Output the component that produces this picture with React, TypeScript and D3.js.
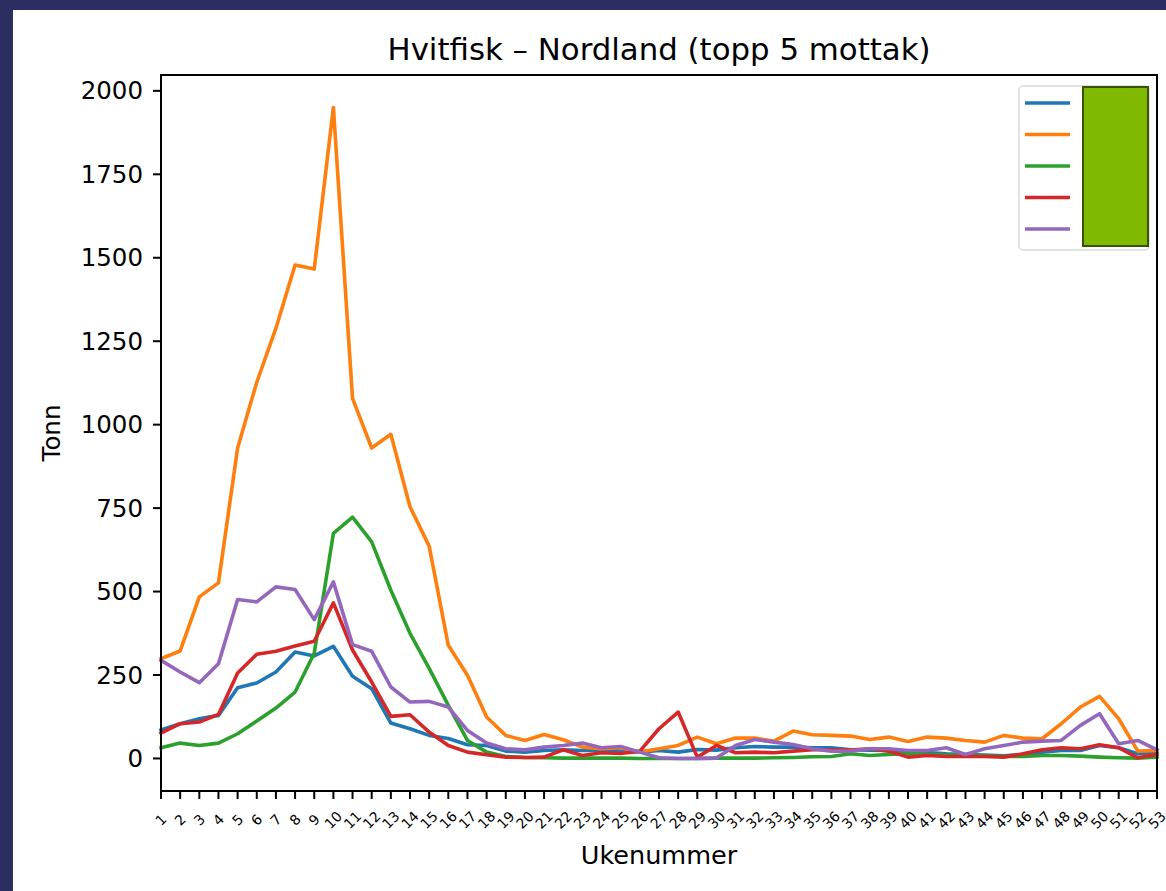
import React from "react";
import * as d3 from "d3";

// weeks 1..53
const weeks: number[] = d3.range(1, 54);

const seriesNames = ["Mottak 1", "Mottak 2", "Mottak 3", "Mottak 4", "Mottak 5"];
const seriesColors = ["#1f77b4", "#ff7f0e", "#2ca02c", "#d62728", "#9467bd"];

const mottak1 = [85, 104, 119, 129, 212, 226, 259, 319, 307, 336, 246, 209, 106, 89, 69, 60, 41, 39, 22, 19, 24, 26, 24, 24, 24, 19, 24, 19, 27, 25, 32, 36, 34, 34, 32, 32, 26, 25, 24, 18, 18, 14, 12, 10, 8, 12, 19, 24, 24, 39, 32, 14, 19];
const mottak2 = [299, 322, 484, 526, 930, 1127, 1289, 1478, 1466, 1950, 1079, 930, 971, 754, 636, 339, 249, 124, 69, 54, 72, 56, 34, 29, 32, 19, 29, 39, 64, 44, 61, 61, 52, 82, 71, 69, 67, 57, 64, 51, 64, 61, 54, 49, 69, 61, 59, 104, 154, 186, 119, 22, 24];
const mottak3 = [32, 46, 39, 46, 74, 112, 151, 199, 315, 674, 723, 649, 504, 375, 270, 159, 54, 19, 6, 3, 2, 1, 1, 1, 1, 0, 0, 0, 0, 1, 1, 1, 2, 3, 5, 6, 14, 9, 12, 14, 12, 10, 10, 8, 6, 6, 9, 9, 7, 4, 2, 1, 4];
const mottak4 = [76, 104, 109, 132, 256, 312, 321, 337, 351, 466, 325, 229, 126, 131, 79, 39, 19, 11, 4, 3, 4, 26, 9, 17, 15, 22, 89, 139, 4, 39, 17, 19, 17, 22, 26, 26, 25, 29, 22, 4, 9, 6, 6, 6, 4, 14, 26, 32, 29, 41, 32, 2, 12];
const mottak5 = [294, 259, 227, 284, 476, 469, 514, 506, 416, 529, 341, 321, 214, 169, 171, 154, 84, 46, 29, 26, 34, 39, 46, 32, 36, 19, 2, 0, 0, 1, 39, 57, 49, 42, 29, 22, 22, 29, 29, 24, 24, 32, 12, 29, 39, 49, 52, 54, 99, 134, 44, 54, 26];

const allSeries = [mottak1, mottak2, mottak3, mottak4, mottak5];
const yTicks = [0, 250, 500, 750, 1000, 1250, 1500, 1750, 2000];

const W = 1166;
const H = 891;
const margin = { top: 75, right: 9, bottom: 100, left: 161 };
const font = "DejaVu Sans, sans-serif";

export default function App() {
  const x0 = margin.left;
  const x1 = W - margin.right;
  const y0 = margin.top;
  const y1 = H - margin.bottom;

  const maxY = d3.max(allSeries, (s) => d3.max(s)) || 0;
  const pad = maxY * 0.05;

  const xScale = d3.scaleLinear().domain([1, 53]).range([x0, x1]);
  const yScale = d3.scaleLinear().domain([-pad, maxY + pad]).range([y1, y0]);

  const line = d3
    .line<number>()
    .x((_, i) => xScale(weeks[i]))
    .y((d) => yScale(d));

  return (
    <svg width={W} height={H} style={{ position: "absolute", left: 0, top: 0 }} fontFamily={font}>
      <rect x={0} y={0} width={W} height={H} fill="#2c2e62" />
      <rect x={13} y={10} width={W - 13} height={H - 10} fill="#ffffff" />

      {/* title */}
      <text x={(x0 + x1) / 2} y={60} textAnchor="middle" fontSize={30.8} fill="#000">
        Hvitfisk – Nordland (topp 5 mottak)
      </text>

      {/* lines */}
      <g>
        {allSeries.map((s, i) => (
          <path key={seriesNames[i]} d={line(s) || ""} fill="none" stroke={seriesColors[i]} strokeWidth={3.6} strokeLinejoin="round" strokeLinecap="square" />
        ))}
      </g>

      {/* frame */}
      <rect x={x0} y={y0} width={x1 - x0} height={y1 - y0} fill="none" stroke="#000" strokeWidth={2} />

      {/* y axis */}
      <g>
        {yTicks.map((t) => (
          <g key={t} transform={`translate(0,${yScale(t)})`}>
            <line x1={x0 - 8} x2={x0} stroke="#000" strokeWidth={2} />
            <text x={x0 - 18} dy="0.35em" textAnchor="end" fontSize={24.5} fill="#000">
              {t}
            </text>
          </g>
        ))}
      </g>

      {/* x axis */}
      <g>
        {weeks.map((w) => (
          <g key={w} transform={`translate(${xScale(w)},0)`}>
            <line y1={y1} y2={y1 + 8} stroke="#000" strokeWidth={2} />
            <text transform={`translate(0,${y1 + 29}) rotate(-45)`} textAnchor="middle" dy="0.35em" fontSize={14} fill="#000">
              {w}
            </text>
          </g>
        ))}
      </g>

      {/* axis labels */}
      <text x={(x0 + x1) / 2} y={864} textAnchor="middle" fontSize={25.5} fill="#000">
        Ukenummer
      </text>
      <text transform={`translate(60,${(y0 + y1) / 2}) rotate(-90)`} textAnchor="middle" fontSize={24.5} fill="#000">
        Tonn
      </text>

      {/* legend */}
      <g>
        <rect x={1019} y={86} width={130} height={164} rx={4} fill="#fff" fillOpacity={0.8} stroke="#d9d9d9" strokeWidth={1.5} />
        {seriesNames.map((n, i) => (
          <line key={n} x1={1025} x2={1070} y1={103 + i * 31.5} y2={103 + i * 31.5} stroke={seriesColors[i]} strokeWidth={3.6} />
        ))}
        <rect x={1083} y={87} width={65} height={159} fill="#7fba00" stroke="#3a5200" strokeWidth={2} />
      </g>
    </svg>
  );
}
